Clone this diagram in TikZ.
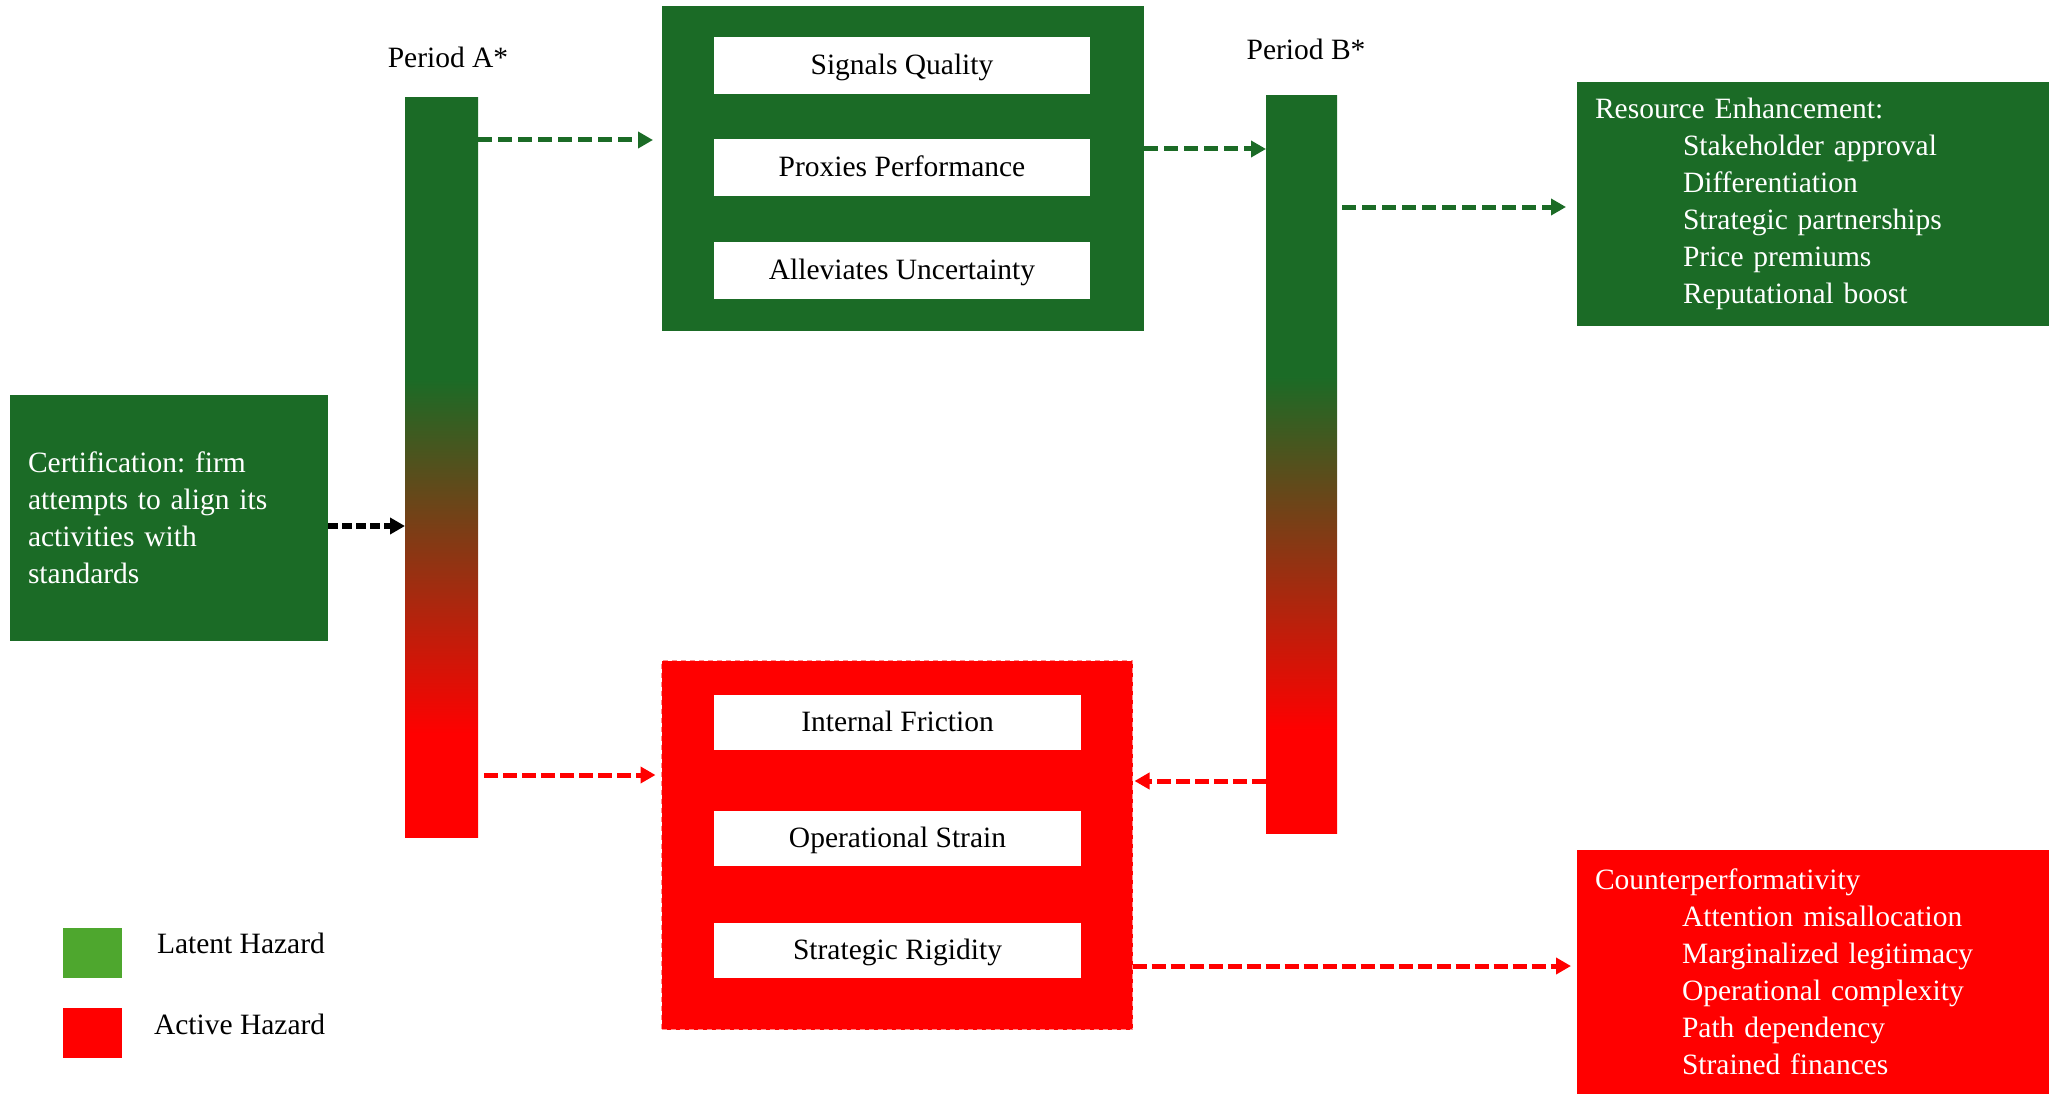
\documentclass[tikz,border=0pt]{standalone}
\usepackage{fontspec}
\setmainfont{Liberation Serif}
\usepackage{tikz}
\usetikzlibrary{arrows.meta}
\frenchspacing
\definecolor{hzgreen}{RGB}{27,107,38}
\definecolor{hzlight}{RGB}{78,167,46}
\definecolor{hzred}{RGB}{255,0,0}
\pgfdeclareverticalshading{hazard}{100bp}{color(0bp)=(hzred); color(32bp)=(hzred); color(56bp)=(hzgreen); color(100bp)=(hzgreen)}
\tikzset{
every node/.style={font=\fontsize{29.5}{37}\selectfont, inner sep=0pt, outer sep=0pt},
panel/.style={shape=rectangle, text=white, align=left, minimum width=472pt, minimum height=244pt, text width=436pt},
item/.style={shape=rectangle, fill=white, minimum width=376pt, minimum height=57pt, text height=23pt, text depth=5pt},
bar/.style={shape=rectangle, shade, shading=hazard, minimum width=72pt},
flow/.style={dash pattern=on 14pt off 6pt, line width=5pt, -{Triangle[length=15pt,width=16pt]}}
}

\begin{document}
\begin{tikzpicture}[x=1pt, y=-1pt]
    \useasboundingbox (0,0) rectangle (2049,1094);

                \node[panel, fill=hzgreen, minimum width=318pt, minimum height=246pt, text width=282pt] (cert) at (169,518) {Certification: firm\\attempts to align its\\activities with\\standards};

                \node[bar, minimum height=739pt, minimum width=73pt] (barA) at (441.5,467.5) {};
                \node[bar, minimum height=737pt, minimum width=71pt] (barB) at (1301.5,464.5) {};
                \node[anchor=base] (perA) at (448,68) {Period A*};
                \node[anchor=base] (perB) at (1306,60) {Period B*};

                \node[shape=rectangle, fill=hzgreen, minimum width=482pt, minimum height=325pt] (gain) at (903,168.5) {};
                \node[item] (signal) at (902,66) {Signals Quality};
                \node[item] (proxy) at (902,168) {Proxies Performance};
                \node[item] (uncert) at (902,270) {Alleviates Uncertainty};

                \node[shape=rectangle, fill=hzred, draw=white!55!hzred, dash pattern=on 5pt off 4pt, line width=1pt, minimum width=471pt, minimum height=369pt] (harm) at (897,845) {};
                \node[item, minimum width=367pt, minimum height=55pt] (friction) at (897.5,722) {Internal Friction};
                \node[item, minimum width=367pt, minimum height=55pt] (strain) at (897.5,838) {Operational Strain};
                \node[item, minimum width=367pt, minimum height=55pt] (rigid) at (897.5,950.5) {Strategic Rigidity};

                \node[panel, fill=hzgreen] (gainlist) at (1813,204) {Resource Enhancement:\\\hspace*{88pt}Stakeholder approval\\\hspace*{88pt}Differentiation\\\hspace*{88pt}Strategic partnerships\\\hspace*{88pt}Price premiums\\\hspace*{88pt}Reputational boost};
                \node[panel, fill=hzred] (harmlist) at (1813,972) {Counterperformativity\\\hspace*{87pt}Attention misallocation\\\hspace*{87pt}Marginalized legitimacy\\\hspace*{87pt}Operational complexity\\\hspace*{87pt}Path dependency\\\hspace*{87pt}Strained finances};

                \node[shape=rectangle, fill=hzlight, minimum width=59pt, minimum height=50pt] (keyL) at (92.5,953) {};
                \node[shape=rectangle, fill=hzred, minimum width=59pt, minimum height=50pt] (keyA) at (92.5,1033) {};
                \node[anchor=base west] (keyLtext) at (157,953) {Latent Hazard};
                \node[anchor=base west] (keyAtext) at (154,1034) {Active Hazard};

                \draw[flow, black, line width=6pt, dash pattern=on 10pt off 4pt] (cert.east |- 0,526) -- (barA.west |- 0,526);
                \draw[flow, hzgreen, shorten >=9pt] (barA.east |- 0,140) -- (gain.west |- 0,140);
                \draw[flow, hzgreen] (gain.east |- 0,149) -- (barB.west |- 0,149);
                \draw[flow, hzgreen, shorten <=5pt, shorten >=11pt] (barB.east |- 0,207) -- (gainlist.west |- 0,207);
                \draw[flow, hzred, dash pattern=on 14pt off 5pt, shorten <=6pt, shorten >=6pt] (barA.east |- 0,775) -- (harm.west |- 0,775);
                \draw[flow, hzred, dash pattern=on 14pt off 5pt, shorten >=2pt] (barB.west |- 0,781) -- (harm.east |- 0,781);
                \draw[flow, hzred, dash pattern=on 14pt off 5pt, shorten >=6pt] (harm.east |- 0,966) -- (harmlist.west |- 0,966);

            \end{tikzpicture}
\end{document}
